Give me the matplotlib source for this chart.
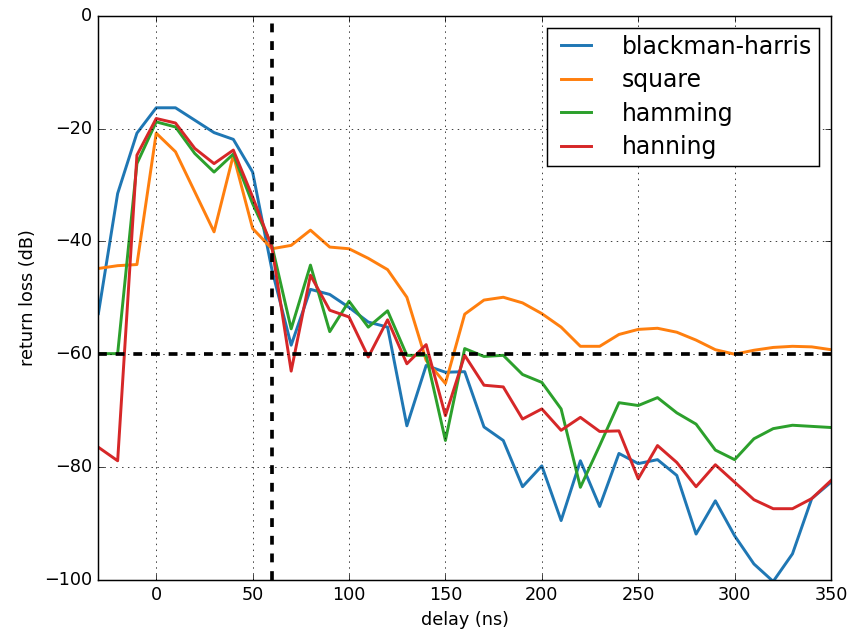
import numpy as np
import matplotlib
matplotlib.use("Agg")
import matplotlib.pyplot as plt

# delay axis, one sample every 10 ns
delay_ns = list(range(-30, 351, 10))

blackman_harris = [-52.8, -31.5, -20.8, -16.3, -16.3, -18.5, -20.7, -21.9, -27.7, -45.0,
                   -58.4, -48.5, -49.4, -51.7, -54.3, -55.2, -72.7, -62.0, -63.2, -63.1,
                   -72.9, -75.3, -83.5, -79.8, -89.5, -78.9, -87.0, -77.6, -79.4, -78.7,
                   -81.5, -91.9, -86.0, -92.2, -97.2, -100.3, -95.4, -85.6, -82.7]
square = [-44.8, -44.3, -44.1, -20.8, -24.1, -31.2, -38.3, -24.7, -37.7, -41.3,
          -40.7, -38.0, -41.0, -41.3, -43.0, -45.0, -49.9, -61.1, -65.2, -52.9,
          -50.4, -49.9, -50.9, -52.8, -55.2, -58.6, -58.6, -56.5, -55.6, -55.4,
          -56.1, -57.5, -59.2, -60.0, -59.3, -58.8, -58.6, -58.7, -59.2]
hamming = [-59.9, -59.9, -26.2, -18.8, -19.7, -24.4, -27.7, -24.5, -33.3, -40.7,
           -55.5, -44.2, -56.0, -50.6, -55.2, -52.3, -60.2, -60.2, -75.3, -59.0,
           -60.4, -60.2, -63.6, -65.0, -69.7, -83.6, -76.2, -68.6, -69.1, -67.7,
           -70.4, -72.4, -77.0, -78.7, -75.0, -73.2, -72.6, -72.8, -73.0]
hanning = [-76.5, -78.9, -24.7, -18.2, -19.0, -23.5, -26.2, -23.8, -32.1, -41.0,
           -63.0, -46.0, -52.2, -53.4, -60.5, -53.9, -61.7, -58.3, -70.9, -60.2,
           -65.5, -65.8, -71.5, -69.7, -73.5, -71.2, -73.7, -73.6, -82.1, -76.2,
           -79.2, -83.5, -79.6, -82.7, -85.8, -87.4, -87.4, -85.6, -82.4]

window_names = ["blackman-harris", "square", "hamming", "hanning"]
window_colors = ["#1f77b4", "#ff7f0e", "#2ca02c", "#d62728"]

gate_delay = 60
loss_floor = -60

plt.style.use("classic")
plt.rcParams["font.family"] = ["DejaVu Sans"]

fig = plt.figure(figsize=(848 / 106, 635 / 106), dpi=106, facecolor="white")
ax = fig.add_axes([0.116, 0.087, 0.864, 0.888])

for name, vals, col in zip(window_names, [blackman_harris, square, hamming, hanning], window_colors):
    ax.plot(delay_ns, vals, color=col, lw=2, label=name)

ax.axvline(gate_delay, color="k", ls="--", lw=2.5)
ax.axhline(loss_floor, color="k", ls="--", lw=2.5)

ax.set_xlim(-30, 350)
ax.set_ylim(-100, 0)
ax.set_xticks(np.arange(0, 351, 50))
ax.set_yticks(np.arange(-100, 1, 20))
ax.set_xlabel("delay (ns)")
ax.set_ylabel("return loss (dB)")
ax.grid(True)
ax.legend(loc="upper right", fontsize=16, handlelength=1.9, handletextpad=1.0,
          labelspacing=0.4, borderpad=0.3, borderaxespad=0.5)

fig.savefig("out.png", dpi=106, facecolor="white")
